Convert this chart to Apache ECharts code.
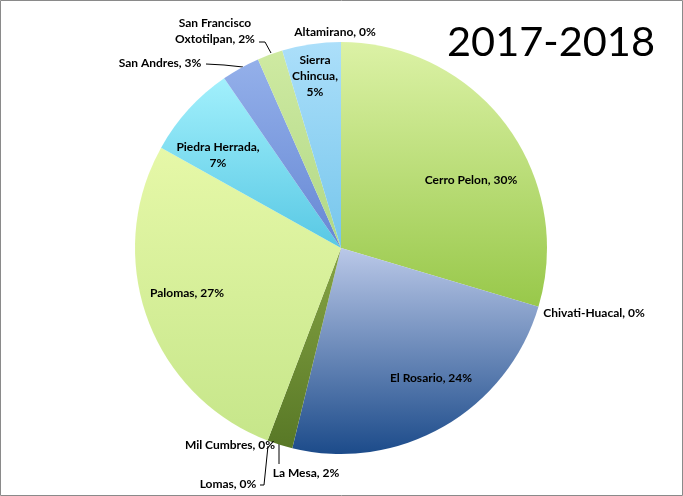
<!DOCTYPE html>
<html>
<head>
<meta charset="utf-8">
<script src="https://cdn.jsdelivr.net/npm/echarts@6/dist/echarts.min.js"></script>
<style>
html,body{margin:0;padding:0;background:#fff;}
#chart{width:683px;height:496px;}
</style>
</head>
<body>
<div id="chart"></div>
<script>
// ---- data ----
var categories = ["Cerro Pelon", "Chivati-Huacal", "El Rosario", "La Mesa", "Lomas", "Mil Cumbres",
                  "Palomas", "Piedra Herrada", "San Andres", "San Francisco Oxtotilpan", "Sierra Chincua", "Altamirano"];
var shares = [29.6, 0, 24.2, 2.0, 0, 0, 27.3, 7.3, 3.0, 2.0, 4.6, 0];
var titleText = "2017-2018";

// ---- styles ----
var gradTop = ["#dcf2a6", "#dcf2a6", "#bac8e8", "#86a444", "#86a444", "#86a444", "#e6f8a8", "#a2f0fc", "#94b0ea", "#cfeaa2", "#acdffa", "#acdffa"];
var gradBot = ["#98c84a", "#98c84a", "#1c4b8a", "#587826", "#587826", "#587826", "#c6e68a", "#58c8e4", "#6688d4", "#b0d886", "#76c6ec", "#76c6ec"];
var labelText = {
  "Piedra Herrada": "{b},\n{d}%",
  "Sierra Chincua": "Sierra\nChincua,\n{d}%",
  "San Francisco Oxtotilpan": "San Francisco\nOxtotilpan, {d}%"
};
var labelPos = [[471,180],[594,313],[431,378],[306,473],[228,484],[230,445],[187,293],[218,155],[160,63],[215,31],[315,76],[335,32]];
var leader = {
  3: [[279,464],[279,451],[279,444]],
  4: [[260,485],[264,485],[268,446]],
  8: [[206,64],[224,65],[243,67]],
  9: [[259,42],[265,42],[271,53]]
};

var chart = echarts.init(document.getElementById('chart'), null, {renderer:'canvas'});
var data = categories.map(function(c, i){
  return {
    name: c,
    value: shares[i],
    itemStyle: {
      color: new echarts.graphic.LinearGradient(0, 0, 0, 1, [
        {offset: 0, color: gradTop[i]},
        {offset: 1, color: gradBot[i]}
      ])
    }
  };
});

chart.setOption({
  backgroundColor: '#ffffff',
  animation: false,
  title: {
    text: titleText,
    left: 442,
    top: 17,
    textStyle: {fontFamily: 'Lato', fontWeight: 'normal', fontSize: 41.5, color: '#000'}
  },
  graphic: [{
    type: 'rect',
    shape: {x: 0.5, y: 0.5, width: 682, height: 495},
    style: {fill: null, stroke: '#8a8a8a', lineWidth: 1},
    silent: true
  }],
  series: [{
    type: 'pie',
    center: [341, 248],
    radius: 206,
    startAngle: 90,
    clockwise: true,
    percentPrecision: 0,
    avoidLabelOverlap: false,
    minAngle: 0,
    data: data,
    label: {
      show: true,
      position: 'outside',
      formatter: function(p){
        var t = labelText[p.name] || "{b}, {d}%";
        return t.replace("{b}", p.name).replace("{d}", p.percent);
      },
      fontFamily: 'Lato',
      fontWeight: 'bold',
      fontSize: 12,
      lineHeight: 16,
      color: '#000',
      align: 'center',
      verticalAlign: 'middle'
    },
    labelLine: {show: true, lineStyle: {color: '#000', width: 1}, smooth: false},
    labelLayout: function(params){
      var i = params.dataIndex;
      var r = {x: labelPos[i][0], y: labelPos[i][1], align: 'center', verticalAlign: 'middle'};
      if (leader[i]) { r.labelLinePoints = leader[i]; }
      else { r.labelLinePoints = [[0,0],[0,0],[0,0]]; }
      return r;
    },
    emphasis: {disabled: true}
  }]
});
</script>
</body>
</html>
